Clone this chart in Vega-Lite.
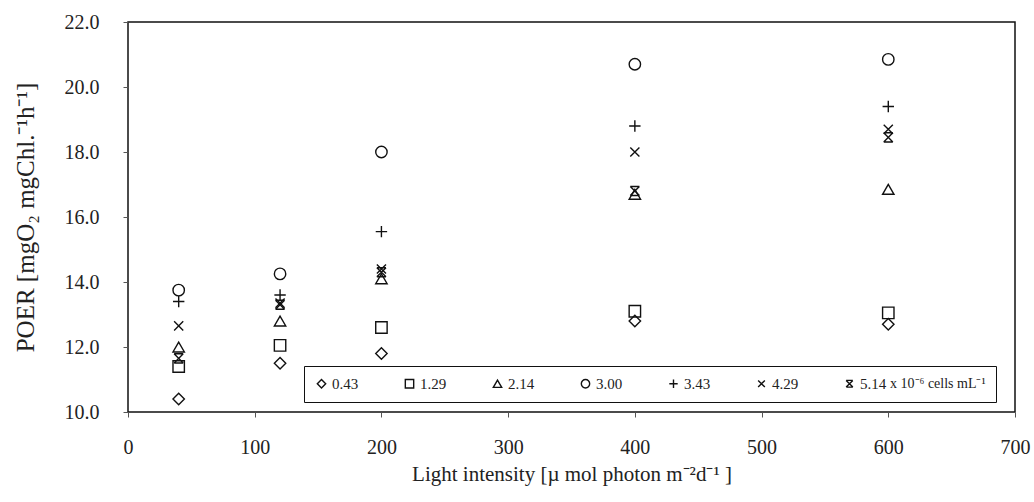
{
  "$schema": "https://vega.github.io/schema/vega-lite/v6.json",
  "width": 887,
  "height": 390,
  "autosize": {"type": "none"},
  "padding": {"left": 128, "top": 22, "right": 19, "bottom": 90},
  "background": "white",
  "config": {
    "font": "Liberation Serif",
    "view": {"stroke": "#111", "strokeWidth": 1.5},
    "axis": {"grid": false, "domain": false, "labelFont": "Liberation Serif", "titleFont": "Liberation Serif", "labelColor": "#222", "titleColor": "#222", "tickColor": "#555", "titleFontWeight": "normal"}
  },
  "data": {
    "values": [
      {"light": 40, "conc": "0.43", "poer": 10.4},
      {"light": 40, "conc": "1.29", "poer": 11.4},
      {"light": 40, "conc": "2.14", "poer": 12.0},
      {"light": 40, "conc": "3.00", "poer": 13.75},
      {"light": 40, "conc": "3.43", "poer": 13.4},
      {"light": 40, "conc": "4.29", "poer": 12.65},
      {"light": 40, "conc": "5.14", "poer": 11.65},
      {"light": 120, "conc": "0.43", "poer": 11.5},
      {"light": 120, "conc": "1.29", "poer": 12.05},
      {"light": 120, "conc": "2.14", "poer": 12.8},
      {"light": 120, "conc": "3.00", "poer": 14.25},
      {"light": 120, "conc": "3.43", "poer": 13.6},
      {"light": 120, "conc": "4.29", "poer": 13.35},
      {"light": 120, "conc": "5.14", "poer": 13.3},
      {"light": 200, "conc": "0.43", "poer": 11.8},
      {"light": 200, "conc": "1.29", "poer": 12.6},
      {"light": 200, "conc": "2.14", "poer": 14.1},
      {"light": 200, "conc": "3.00", "poer": 18.0},
      {"light": 200, "conc": "3.43", "poer": 15.55},
      {"light": 200, "conc": "4.29", "poer": 14.4},
      {"light": 200, "conc": "5.14", "poer": 14.3},
      {"light": 400, "conc": "0.43", "poer": 12.8},
      {"light": 400, "conc": "1.29", "poer": 13.1},
      {"light": 400, "conc": "2.14", "poer": 16.7},
      {"light": 400, "conc": "3.00", "poer": 20.7},
      {"light": 400, "conc": "3.43", "poer": 18.8},
      {"light": 400, "conc": "4.29", "poer": 18.0},
      {"light": 400, "conc": "5.14", "poer": 16.8},
      {"light": 600, "conc": "0.43", "poer": 12.7},
      {"light": 600, "conc": "1.29", "poer": 13.05},
      {"light": 600, "conc": "2.14", "poer": 16.85},
      {"light": 600, "conc": "3.00", "poer": 20.85},
      {"light": 600, "conc": "3.43", "poer": 19.4},
      {"light": 600, "conc": "4.29", "poer": 18.7},
      {"light": 600, "conc": "5.14", "poer": 18.45}
    ]
  },
  "mark": {"type": "point", "filled": false, "stroke": "#111", "strokeWidth": 1.4, "size": 130, "opacity": 1},
  "encoding": {
    "x": {
      "field": "light", "type": "quantitative",
      "scale": {"domain": [0, 700], "nice": false, "zero": false},
      "axis": {"values": [0, 100, 200, 300, 400, 500, 600, 700], "format": "d", "labelFontSize": 20, "tickSize": 5, "labelPadding": 20, "title": "Light intensity [µ mol photon m⁻²d⁻¹ ]", "titleFontSize": 21, "titlePadding": 6, "labelFlush": false}
    },
    "y": {
      "field": "poer", "type": "quantitative",
      "scale": {"domain": [10, 22], "nice": false, "zero": false},
      "axis": {"values": [10, 12, 14, 16, 18, 20, 22], "format": ".1f", "labelFontSize": 20, "tickSize": 5, "labelPadding": 24, "title": "POER [mgO₂ mgChl.⁻¹h⁻¹]", "titleFontSize": 25, "titlePadding": 26, "labelFlush": false}
    },
    "shape": {
      "field": "conc", "type": "nominal",
      "scale": {
        "domain": ["0.43", "1.29", "2.14", "3.00", "3.43", "4.29", "5.14"],
        "range": ["diamond", "square", "triangle-up", "circle", "M-1,0L1,0M0,-1L0,1", "M-0.8,-0.8L0.8,0.8M-0.8,0.8L0.8,-0.8", "M-0.8,-0.8L0.8,0.8M-0.8,0.8L0.8,-0.8M-0.8,-0.8L0.8,-0.8M-0.8,0.8L0.8,0.8"]
      },
      "legend": {
        "orient": "none", "legendX": 176, "legendY": 344,
        "direction": "horizontal", "columns": 7,
        "title": "x 10⁻⁶ cells mL⁻¹", "titleOrient": "right", "titleFontSize": 14, "titleFontWeight": "normal", "titleColor": "#222", "titlePadding": 4, "titleAnchor": "middle",
        "labelFontSize": 15, "labelColor": "#222", "labelOffset": 3,
        "symbolSize": 70, "symbolStrokeColor": "#111", "symbolStrokeWidth": 1.4, "symbolFillColor": "transparent",
        "columnPadding": 43, "padding": 10,
        "strokeColor": "#111", "fillColor": "white",
        "encode": {"legend": {"update": {"strokeWidth": {"value": 1.5}}}}
      }
    }
  }
}
